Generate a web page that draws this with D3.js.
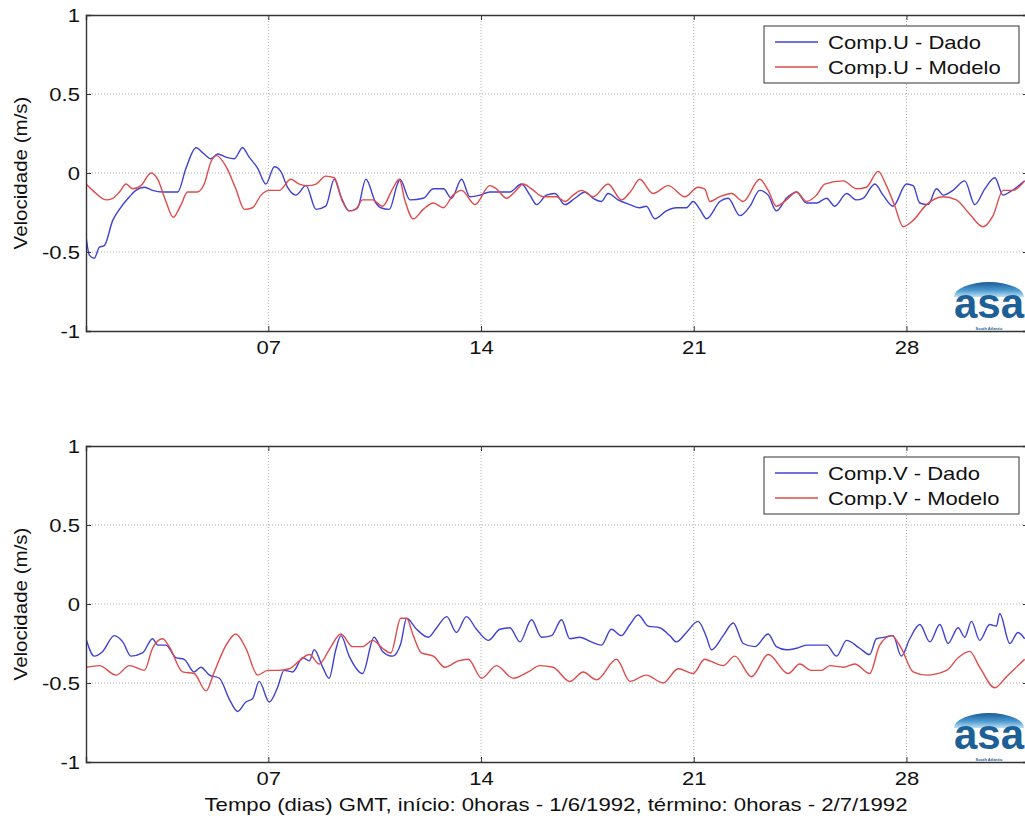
<!DOCTYPE html>
<html><head><meta charset="utf-8">
<script src="https://cdn.jsdelivr.net/npm/d3@7"></script>
<style>
html,body{margin:0;padding:0;background:#fff;}
svg{display:block;font-family:"Liberation Sans",Arial,sans-serif;}
</style></head>
<body>
<svg id="chart" width="1025" height="825"></svg>
<script>
// ---------- DATA (day of June 1992, velocity m/s) ----------
const xTicks = [7, 14, 21, 28];
const xTickLabels = ["07", "14", "21", "28"];
const yTicks = [-1, -0.5, 0, 0.5, 1];
const yTickLabels = ["-1", "-0.5", "0", "0.5", "1"];
const seriesNamesTop = ["Comp.U - Dado", "Comp.U - Modelo"];
const seriesNamesBottom = ["Comp.V - Dado", "Comp.V - Modelo"];
const xLabel = "Tempo (dias) GMT, início: 0horas - 1/6/1992, término: 0horas - 2/7/1992";
const yLabel = "Velocidade (m/s)";
const logoText = "asa";
const logoSub = "South Atlantic";

const uDadoDays = [1.00,1.11,1.27,1.44,1.60,1.88,2.10,2.43,2.64,2.92,3.19,3.52,4.02,4.29,4.62,4.89,5.11,5.33,5.61,5.88,6.15,6.37,6.65,6.92,7.20,7.41,7.63,7.91,8.24,8.57,8.89,9.17,9.39,9.66,9.94,10.21,10.54,10.70,10.98,11.25,
 11.33,11.66,12.10,12.43,12.76,13.03,13.36,13.63,13.96,14.29,14.62,14.95,15.33,15.61,15.83,16.15,16.43,16.76,17.09,17.42,17.69,17.96,18.18,18.51,18.90,19.22,19.44,19.72,20.10,20.43,20.76,20.98,21.20,21.42,
 21.86,22.13,22.52,22.85,23.17,23.45,23.72,24.05,24.38,24.71,25.04,25.37,25.64,26.03,26.35,26.57,26.96,27.23,27.56,28.00,28.22,28.44,28.71,28.99,29.21,29.53,29.92,30.25,30.58,30.91,31.18,31.40,31.89];
const uDadoVals = [-0.40,-0.52,-0.54,-0.47,-0.46,-0.30,-0.23,-0.15,-0.11,-0.09,-0.11,-0.12,-0.12,0.03,0.16,0.12,0.09,0.12,0.10,0.09,0.16,0.10,0.03,-0.07,0.04,0.01,-0.09,-0.14,-0.08,-0.23,-0.21,-0.04,-0.15,-0.24,-0.22,-0.04,-0.19,-0.22,-0.23,-0.07,
 -0.04,-0.17,-0.16,-0.10,-0.10,-0.16,-0.04,-0.15,-0.14,-0.12,-0.12,-0.12,-0.07,-0.14,-0.20,-0.14,-0.13,-0.20,-0.16,-0.12,-0.16,-0.18,-0.13,-0.17,-0.20,-0.22,-0.21,-0.29,-0.24,-0.22,-0.22,-0.18,-0.23,-0.29,
 -0.18,-0.16,-0.27,-0.21,-0.11,-0.14,-0.24,-0.16,-0.12,-0.19,-0.19,-0.16,-0.21,-0.13,-0.17,-0.16,-0.07,-0.14,-0.21,-0.07,-0.08,-0.19,-0.20,-0.10,-0.14,-0.11,-0.05,-0.20,-0.10,-0.03,-0.14,-0.12,-0.05];

const uModeloDays = [1.00,1.22,1.66,1.88,2.10,2.32,2.54,2.81,3.14,3.36,3.63,3.87,4.13,4.34,4.67,4.89,5.11,5.30,5.61,5.93,6.21,6.48,6.76,7.03,7.36,7.74,8.02,8.29,8.57,8.89,9.17,9.44,9.66,9.88,10.10,10.43,10.76,11.09,11.31,
 11.49,11.77,12.10,12.43,12.76,13.08,13.36,13.80,14.29,14.51,14.84,15.11,15.39,15.66,16.05,16.48,16.76,17.03,17.31,17.69,18.18,18.62,18.95,19.22,19.66,20.16,20.71,21.14,21.36,
 21.53,21.86,22.24,22.63,23.17,23.45,23.72,24.05,24.38,24.71,25.04,25.31,25.92,26.35,26.68,27.07,27.34,27.62,27.89,28.22,28.66,29.21,29.64,30.08,30.52,30.85,31.18,31.51,31.89];
const uModeloVals = [-0.07,-0.11,-0.17,-0.16,-0.12,-0.07,-0.10,-0.08,0.00,-0.04,-0.18,-0.28,-0.20,-0.12,-0.12,-0.07,0.07,0.11,0.04,-0.10,-0.23,-0.22,-0.14,-0.11,-0.11,-0.04,-0.07,-0.08,-0.07,-0.02,-0.03,-0.18,-0.24,-0.23,-0.17,-0.17,-0.21,-0.10,-0.04,
 -0.17,-0.29,-0.23,-0.19,-0.22,-0.14,-0.11,-0.20,-0.08,-0.10,-0.16,-0.12,-0.07,-0.10,-0.15,-0.15,-0.18,-0.14,-0.11,-0.15,-0.07,-0.17,-0.11,-0.04,-0.13,-0.08,-0.15,-0.09,-0.10,
 -0.18,-0.15,-0.13,-0.18,-0.04,-0.11,-0.21,-0.17,-0.12,-0.18,-0.14,-0.07,-0.05,-0.10,-0.09,0.01,-0.08,-0.21,-0.34,-0.30,-0.20,-0.15,-0.17,-0.26,-0.34,-0.27,-0.11,-0.11,-0.05];

const vDadoDays = [1.00,1.27,1.55,1.93,2.21,2.48,2.86,3.19,3.36,3.63,3.96,4.23,4.56,4.78,5.06,5.39,5.71,5.99,6.26,6.48,6.70,7.03,7.30,7.52,7.80,8.13,8.35,8.51,8.79,9.00,9.22,9.39,9.66,10.10,10.48,10.76,11.09,11.36,
 11.55,11.88,12.26,12.54,12.87,13.19,13.52,13.85,14.24,14.62,14.95,15.28,15.66,15.99,16.32,16.65,16.92,17.25,17.63,17.96,18.29,18.62,18.90,19.17,19.50,19.88,20.21,20.43,20.76,21.14,21.42,21.58,
 21.97,22.30,22.63,23.01,23.45,23.72,24.05,24.38,24.71,25.37,25.70,26.03,26.46,26.79,27.01,27.29,27.56,27.83,28.11,28.44,28.77,29.10,29.37,29.70,29.92,30.14,30.41,30.74,30.96,31.07,31.40,31.67,31.89];
const vDadoVals = [-0.22,-0.33,-0.30,-0.20,-0.24,-0.33,-0.31,-0.22,-0.26,-0.26,-0.34,-0.35,-0.43,-0.40,-0.45,-0.47,-0.60,-0.68,-0.62,-0.60,-0.49,-0.62,-0.53,-0.42,-0.43,-0.34,-0.36,-0.29,-0.40,-0.47,-0.29,-0.20,-0.33,-0.44,-0.21,-0.30,-0.33,-0.25,
 -0.09,-0.16,-0.21,-0.15,-0.08,-0.18,-0.08,-0.16,-0.23,-0.16,-0.15,-0.24,-0.10,-0.21,-0.20,-0.10,-0.22,-0.21,-0.24,-0.26,-0.16,-0.20,-0.13,-0.07,-0.14,-0.15,-0.20,-0.24,-0.18,-0.11,-0.21,-0.29,
 -0.20,-0.12,-0.25,-0.27,-0.19,-0.27,-0.29,-0.28,-0.26,-0.26,-0.33,-0.23,-0.28,-0.32,-0.22,-0.21,-0.20,-0.33,-0.22,-0.13,-0.24,-0.13,-0.25,-0.15,-0.21,-0.11,-0.23,-0.13,-0.14,-0.06,-0.25,-0.18,-0.22];

const vModeloDays = [1.00,1.44,1.99,2.43,2.92,3.19,3.52,3.74,4.18,4.56,4.95,5.22,5.61,5.93,6.26,6.65,6.98,7.30,7.69,8.02,8.35,8.68,9.00,9.39,9.77,10.10,10.43,10.76,11.03,11.36,
 11.55,11.77,12.04,12.43,12.81,13.25,13.58,14.02,14.51,15.06,15.55,15.94,16.37,16.92,17.36,17.80,18.46,18.90,19.44,19.99,20.49,20.98,21.36,
 21.53,21.97,22.35,22.90,23.45,24.11,24.49,24.87,25.20,25.48,25.92,26.30,26.79,27.12,27.51,27.83,28.22,28.66,29.32,29.70,30.08,30.41,30.91,31.29,31.89];
const vModeloVals = [-0.40,-0.39,-0.45,-0.39,-0.42,-0.28,-0.22,-0.27,-0.43,-0.44,-0.55,-0.43,-0.26,-0.19,-0.28,-0.45,-0.42,-0.42,-0.41,-0.36,-0.32,-0.38,-0.29,-0.19,-0.27,-0.27,-0.23,-0.28,-0.31,-0.09,
 -0.09,-0.20,-0.31,-0.33,-0.40,-0.36,-0.35,-0.47,-0.39,-0.47,-0.43,-0.39,-0.40,-0.49,-0.43,-0.48,-0.35,-0.49,-0.45,-0.50,-0.41,-0.44,-0.35,
 -0.36,-0.39,-0.33,-0.46,-0.32,-0.44,-0.38,-0.42,-0.42,-0.39,-0.40,-0.38,-0.44,-0.26,-0.20,-0.28,-0.43,-0.45,-0.42,-0.34,-0.30,-0.40,-0.53,-0.46,-0.35];

// ---------- LAYOUT ----------
const blue = "#4040d4", red = "#e04a4a";
const FONT = 19, STRETCH = 1.16;
const svg = d3.select("#chart");
const x = d3.scaleLinear().domain([1, 32]).range([86, 1028]);

function zip(d, v) { return d.map((t, i) => ({t: t, v: v[i]})); }
function stretch(sel, k) {
  sel.each(function () {
    const L = this.getComputedTextLength();
    if (L > 0) d3.select(this).attr("textLength", L * k).attr("lengthAdjust", "spacingAndGlyphs");
  });
}

function panel(top, bottom, series, names, id) {
  const y = d3.scaleLinear().domain([-1, 1]).range([bottom, top]);
  const g = svg.append("g");
  const defs = g.append("defs");
  defs.append("clipPath").attr("id", "clip" + id)
    .append("rect").attr("x", x.range()[0]).attr("y", top)
    .attr("width", x.range()[1] - x.range()[0]).attr("height", bottom - top);

  // grid
  g.append("g").selectAll("line").data(yTicks.filter(t => t > -1 && t < 1)).join("line")
    .attr("x1", x.range()[0]).attr("x2", x.range()[1])
    .attr("y1", d => y(d)).attr("y2", d => y(d))
    .attr("stroke", "#b0b0b0").attr("stroke-width", 1).attr("stroke-dasharray", "1,2");
  g.append("g").selectAll("line").data(xTicks).join("line")
    .attr("x1", d => x(d)).attr("x2", d => x(d))
    .attr("y1", top).attr("y2", bottom)
    .attr("stroke", "#b0b0b0").attr("stroke-width", 1).attr("stroke-dasharray", "1,2");

  // logo (behind lines)
  const logo = g.append("g").attr("transform", `translate(989,${bottom})`);
  const grad = defs.append("linearGradient").attr("id", "lg" + id)
    .attr("x1", "0").attr("y1", "0").attr("x2", "0").attr("y2", "1");
  grad.append("stop").attr("offset", "0%").attr("stop-color", "#1b5a95");
  grad.append("stop").attr("offset", "55%").attr("stop-color", "#4b9ad0");
  grad.append("stop").attr("offset", "100%").attr("stop-color", "#bfe0f2");
  logo.append("path").attr("d", "M-35,-34 A35,15 0 0 1 35,-34 Z").attr("fill", "url(#lg" + id + ")");
  logo.append("text").attr("x", 0).attr("y", -13).attr("text-anchor", "middle")
    .attr("font-size", 42).attr("font-weight", "bold").attr("fill", "#1d5f97")
    .attr("font-family", "Liberation Sans, Arial, sans-serif").text(logoText);
  logo.append("text").attr("x", 0).attr("y", -1).attr("text-anchor", "middle")
    .attr("font-size", 4).attr("font-weight", "bold").attr("fill", "#1d5f97").text(logoSub);

  // lines
  const line = d3.line().x(d => x(d.t)).y(d => y(d.v)).curve(d3.curveMonotoneX);
  const lg = g.append("g").attr("clip-path", "url(#clip" + id + ")");
  series.forEach(s => {
    lg.append("path").datum(s.data).attr("d", line)
      .attr("fill", "none").attr("stroke", s.color).attr("stroke-width", 1.4)
      .attr("stroke-linejoin", "round");
  });

  // axes (ticks inward)
  const fmtY = d => yTickLabels[yTicks.indexOf(d)];
  const fmtX = d => xTickLabels[xTicks.indexOf(d)];
  const ax = g.append("g").attr("transform", `translate(${x.range()[0]},0)`)
    .call(d3.axisLeft(y).tickValues(yTicks).tickFormat(fmtY).tickSize(-5).tickPadding(6));
  const bx = g.append("g").attr("transform", `translate(0,${bottom})`)
    .call(d3.axisBottom(x).tickValues(xTicks).tickFormat(fmtX).tickSize(-5).tickPadding(10));
  const tx = g.append("g").attr("transform", `translate(0,${top})`)
    .call(d3.axisTop(x).tickValues(xTicks).tickFormat("").tickSize(-5));
  const rx = g.append("g").attr("transform", `translate(${x.range()[1]},0)`)
    .call(d3.axisRight(y).tickValues(yTicks).tickFormat("").tickSize(-5));
  [ax, bx, tx, rx].forEach(a => {
    a.select(".domain").attr("stroke", "#333").attr("stroke-width", 1.4);
    a.selectAll(".tick line").attr("stroke", "#333");
    a.selectAll("text").attr("font-size", FONT).attr("fill", "#111")
      .attr("font-family", "Liberation Sans, Arial, sans-serif");
  });
  stretch(ax.selectAll("text"), STRETCH);
  stretch(bx.selectAll("text"), STRETCH);

  // y label
  const yl = g.append("text").attr("transform", `translate(27,${(top + bottom) / 2}) rotate(-90)`)
    .attr("text-anchor", "middle").attr("font-size", FONT).attr("fill", "#111").text(yLabel);
  stretch(yl, 1.08);

  // legend
  const lx = 764, ly = top + 11, lw = 255, lh = 57;
  const leg = g.append("g");
  leg.append("rect").attr("x", lx).attr("y", ly).attr("width", lw).attr("height", lh)
    .attr("fill", "#fff").attr("stroke", "#333").attr("stroke-width", 1);
  series.forEach((s, i) => {
    const yy = ly + 16 + i * 25;
    leg.append("line").attr("x1", lx + 11).attr("x2", lx + 54).attr("y1", yy).attr("y2", yy)
      .attr("stroke", s.color).attr("stroke-width", 1.4);
    const t = leg.append("text").attr("x", lx + 64).attr("y", yy + 7).attr("font-size", FONT)
      .attr("fill", "#111").text(names[i]);
    stretch(t, STRETCH);
  });
  return y;
}

panel(15, 331, [
  {data: zip(uDadoDays, uDadoVals), color: blue},
  {data: zip(uModeloDays, uModeloVals), color: red}
], seriesNamesTop, "t");

panel(446, 762, [
  {data: zip(vDadoDays, vDadoVals), color: blue},
  {data: zip(vModeloDays, vModeloVals), color: red}
], seriesNamesBottom, "b");

const xl = svg.append("text").attr("x", 556).attr("y", 811).attr("text-anchor", "middle")
  .attr("font-size", FONT).attr("fill", "#111").text(xLabel);
xl.attr("textLength", 703).attr("lengthAdjust", "spacingAndGlyphs");
</script>
</body></html>
